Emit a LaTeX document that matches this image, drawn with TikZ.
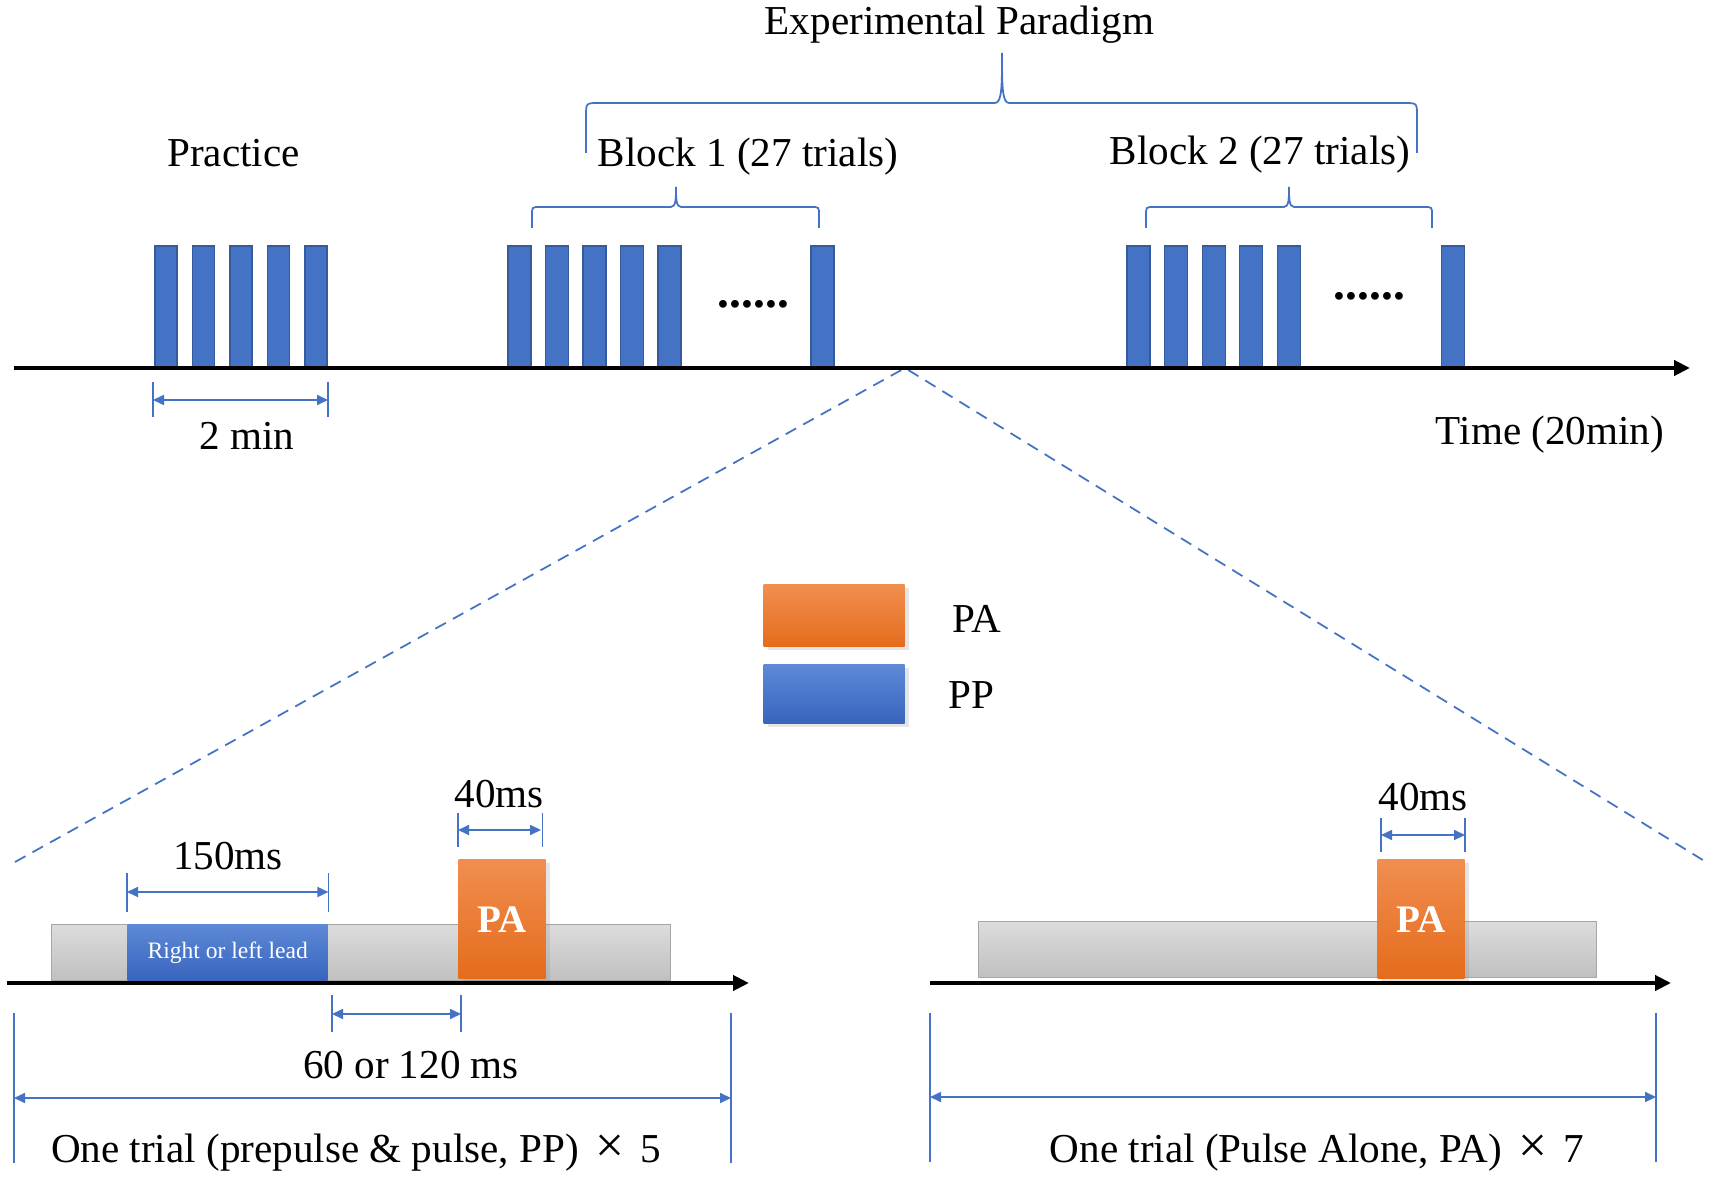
\documentclass[tikz,border=0pt]{standalone}
\usepackage{fontspec}
\setmainfont{Liberation Serif}
\usetikzlibrary{arrows.meta,shadows}
\definecolor{barblue}{HTML}{4472C4}
\definecolor{bluetop}{HTML}{5D89D6}
\definecolor{bluebot}{HTML}{3864BE}
\definecolor{orangetop}{HTML}{F18E4F}
\definecolor{orangebot}{HTML}{E46C1C}
\definecolor{graytop}{HTML}{DCDCDC}
\definecolor{graybot}{HTML}{C0C0C0}
\tikzset{
    txt/.style = {font=\fontsize{11.7}{14}\selectfont, inner sep=0pt, anchor=base},
    dots/.style = {font=\fontsize{13.5}{16}\bfseries, inner sep=0pt, anchor=base},
    bar/.style = {fill=barblue, draw=barblue!80!black, line width=0.3pt},
    axis/.style = {line width=1.25pt, -{Triangle[length=1.6mm, width=1.5mm]}},
    dim/.style = {draw=barblue, line width=0.5pt,
        {Triangle[length=1.1mm, width=1mm]}-{Triangle[length=1.1mm, width=1mm]}},
    tick/.style = {draw=barblue, line width=0.45pt},
    brace/.style = {draw=barblue, line width=0.5pt},
    zoomline/.style = {draw=barblue, line width=0.5pt, dash pattern=on 3.4pt off 2.3pt},
    slot/.style = {draw=black!35, line width=0.4pt, top color=graytop, bottom color=graybot,
        inner sep=0pt, anchor=north west, minimum height=0.56cm},
    pulse/.style = {top color=orangetop, bottom color=orangebot, inner sep=0pt, anchor=north west,
        text=white, font=\fontsize{11.1}{13}\bfseries,
        drop shadow={opacity=0.2, shadow xshift=0.4mm, shadow yshift=-0.3mm}},
    prepulse/.style = {top color=bluetop, bottom color=bluebot, inner sep=0pt, anchor=north west,
        text=white}
}
\begin{document}
\begin{tikzpicture}[x=1cm, y=-1cm]
    \fill[white] (0,0) rectangle (17.13,11.79);
    \useasboundingbox (0,0) rectangle (17.13,11.79);

    \node[txt] (paradigm) at (9.595,0.35) {Experimental Paradigm};
    \node[txt] (practice) at (2.335,1.67) {Practice};
    \node[txt] (block1) at (7.48,1.67) {Block 1 (27 trials)};
    \node[txt] (block2) at (12.60,1.65) {Block 2 (27 trials)};

    \draw[brace]
    (5.86,1.53) -- (5.86,1.16) .. controls (5.86,1.03) .. (5.99,1.03) -- (9.95,1.03)
        .. controls (10.02,1.03) and (10.02,0.85) .. (10.02,0.53)
        .. controls (10.02,0.85) and (10.02,1.03) .. (10.09,1.03)
        -- (14.04,1.03) .. controls (14.17,1.03) .. (14.17,1.16) -- (14.17,1.53);
    \draw[brace]
    (5.32,2.28) -- (5.32,2.15) .. controls (5.32,2.07) .. (5.40,2.07) -- (6.71,2.07)
        .. controls (6.76,2.07) and (6.76,1.98) .. (6.76,1.87)
        .. controls (6.76,1.98) and (6.76,2.07) .. (6.81,2.07)
        -- (8.11,2.07) .. controls (8.19,2.07) .. (8.19,2.15) -- (8.19,2.28);
    \draw[brace]
    (11.46,2.28) -- (11.46,2.15) .. controls (11.46,2.07) .. (11.54,2.07) -- (12.84,2.07)
        .. controls (12.89,2.07) and (12.89,1.98) .. (12.89,1.87)
        .. controls (12.89,1.98) and (12.89,2.07) .. (12.94,2.07)
        -- (14.24,2.07) .. controls (14.32,2.07) .. (14.32,2.15) -- (14.32,2.28);

    \foreach \x in {1.55,1.925,2.30,2.675,3.05}
        \draw[bar] (\x,2.46) rectangle ++(0.22,1.22);
    \foreach \x in {5.08,5.455,5.83,6.205,6.58,8.11,11.27,11.645,12.02,12.395,12.77,14.41}
        \draw[bar] (\x,2.46) rectangle ++(0.23,1.22);
    \node[dots] (dots1) at (7.535,3.08) {......};
    \node[dots] (dots2) at (13.695,3.00) {......};

    \coordinate (apex) at (9.05,3.68);
    \draw[zoomline] (0.15,8.62) -- (apex) -- (17.06,8.62);
    \draw[axis] (0.14,3.68) -- (16.90,3.68);

    \draw[tick] (1.53,3.82) -- (1.53,4.17) (3.28,3.82) -- (3.28,4.17);
    \draw[dim] (1.53,4.00) -- (3.28,4.00);
    \node[txt] (twomin) at (2.47,4.50) {2 min};
    \node[txt] (time) at (15.50,4.45) {Time (20min)};

    \node[pulse, minimum width=1.41cm, minimum height=0.62cm] (legPA) at (7.63,5.84) {};
    \node[prepulse, minimum width=1.41cm, minimum height=0.59cm,
        drop shadow={opacity=0.2, shadow xshift=0.4mm, shadow yshift=-0.3mm}] (legPP) at (7.63,6.64) {};
    \node[txt] (legPAtxt) at (9.77,6.33) {PA};
    \node[txt] (legPPtxt) at (9.71,7.08) {PP};

    \node[slot, minimum width=6.19cm] (slotL) at (0.51,9.24) {};
    \node[prepulse, minimum width=2.00cm, minimum height=0.56cm,
        font=\fontsize{6.7}{8}\selectfont] (lead) at (1.27,9.24) {Right or left lead};
    \node[pulse, minimum width=0.87cm, minimum height=1.19cm] (paL) at (4.58,8.59) {PA};
    \draw[axis] (0.07,9.83) -- (7.49,9.83);

    \node[slot, minimum width=6.18cm] (slotR) at (9.78,9.21) {};
    \node[pulse, minimum width=0.87cm, minimum height=1.19cm] (paR) at (13.77,8.59) {PA};
    \draw[axis] (9.30,9.83) -- (16.71,9.83);

    \draw[tick] (lead.north west) ++(0,-0.51) -- ++(0,0.39) (lead.north east) ++(0,-0.51) -- ++(0,0.39);
    \draw[dim] (lead.north west |- 0,8.92) -- (lead.north east |- 0,8.92);
    \node[txt] (t150) at (2.28,8.69) {150ms};

    \draw[tick] (paL.north west) ++(0,-0.46) -- ++(0,0.34) (paL.north east) ++(-0.04,-0.46) -- ++(0,0.34);
    \draw[dim] (paL.north west |- 0,8.30) -- (5.41,8.30);
    \node[txt] (t40L) at (4.99,8.07) {40ms};

    \draw[tick] (3.32,9.95) -- (3.32,10.32) (4.61,9.95) -- (4.61,10.32);
    \draw[dim] (3.32,10.14) -- (4.61,10.14);
    \node[txt] (tgap) at (4.11,10.78) {60 or 120 ms};

    \draw[tick] (0.14,10.13) -- (0.14,11.63) (7.31,10.13) -- (7.31,11.63);
    \draw[dim] (0.14,10.98) -- (7.31,10.98);
    \node[txt] (trialL) at (3.56,11.62) {One trial (prepulse \& pulse, PP) \makebox[1em]{\scalebox{1.25}{×}} 5};

    \draw[tick] (13.81,8.18) -- (13.81,8.52) (14.65,8.18) -- (14.65,8.52);
    \draw[dim] (13.81,8.35) -- (14.65,8.35);
    \node[txt] (t40R) at (14.23,8.10) {40ms};

    \draw[tick] (9.30,10.13) -- (9.30,11.62) (16.56,10.13) -- (16.56,11.62);
    \draw[dim] (9.30,10.97) -- (16.56,10.97);
    \node[txt] (trialR) at (13.17,11.62) {One trial (Pulse Alone, PA) \makebox[1em]{\scalebox{1.25}{×}} 7};
\end{tikzpicture}
\end{document}
